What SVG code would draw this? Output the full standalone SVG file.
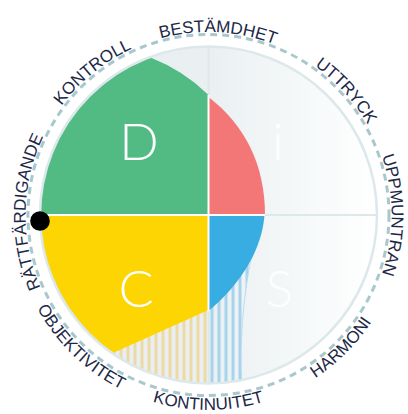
<svg xmlns="http://www.w3.org/2000/svg" width="408" height="414" viewBox="0 0 408 414">
  <style>
    .lbl { font-family: "Liberation Sans", Arial, sans-serif; font-size: 17px; fill: #1d2846; }
    .big { font-family: Lato, "Open Sans", sans-serif; font-weight: 300; font-size: 52px; text-anchor: middle; }
    .axis { stroke: #dde8ea; stroke-width: 2; }
    .gap { stroke: #ffffff; stroke-width: 2; }
  </style>
  <defs>
    <linearGradient id="bgGrad" x1="40" y1="0" x2="378" y2="0" gradientUnits="userSpaceOnUse">
      <stop offset="0" stop-color="#e7eef0"/>
      <stop offset="0.5" stop-color="#eaf0f2"/>
      <stop offset="1" stop-color="#ffffff"/>
    </linearGradient>
    <pattern id="beige" x="0" y="0" width="7" height="10" patternUnits="userSpaceOnUse">
      <rect x="0.5" y="0" width="3" height="10" fill="#eed9a4"/>
    </pattern>
    <pattern id="blueH" x="0" y="0" width="7" height="10" patternUnits="userSpaceOnUse">
      <rect x="0.5" y="0" width="3" height="10" fill="#a8d3ec"/>
    </pattern>
    <clipPath id="inner">
      <circle cx="208.5" cy="215" r="168"/>
    </clipPath>
    <path id="pBest" d="M40.05,143.5 A183,183 0 0 1 383.5,161.5"/>
    <path id="pUtt" d="M139.95,45.3 A183,183 0 0 1 370.1,300.9"/>
    <path id="pUpp" d="M271.1,43 A183,183 0 0 1 271.1,387"/>
    <path id="pRatt" d="M142.9,385.8 A183,183 0 0 1 148.9,42"/>
    <path id="pKontr" d="M35.5,274.6 A183,183 0 0 1 302.7,58.1"/>
    <path id="pHarm" d="M126.1,391.7 A195,195 0 0 0 385.2,132.6"/>
    <path id="pKonti" d="M25.3,281.7 A195,195 0 0 0 391.7,281.7"/>
    <path id="pObj" d="M30.4,135.7 A195,195 0 0 0 294,390.3"/>
  </defs>

  <g id="background">
    <circle cx="208.5" cy="215" r="180.5" fill="none" stroke="#a9c8ce" stroke-width="3" stroke-dasharray="7 5"/>
    <circle cx="208.5" cy="215" r="168" fill="url(#bgGrad)"/>
  </g>

  <g id="hatching" clip-path="url(#inner)">
    <path d="M208.5,215 H40.5 A168,168 0 0 0 208.5,383 Z" fill="url(#beige)"/>
    <path d="M208.5,250 H253 C245,290 239,330 242,390 H208.5 Z" fill="url(#blueH)"/>
    <path d="M251,258 C245,290 239,330 242,390" fill="none" stroke="#bcdcee" stroke-width="1"/>
  </g>

  <g id="axes" clip-path="url(#inner)">
    <line class="axis" x1="40" y1="215" x2="378" y2="215"/>
    <line class="axis" x1="208.5" y1="46" x2="208.5" y2="384"/>
  </g>

  <g id="node-D">
    <path d="M208.5,215 H40.5 A168,168 0 0 1 150.5,57.6 Q184,70.8 208.5,95 Z" fill="#52bb84"/>
    <text class="big" x="139" y="160" fill="#ffffff">D</text>
  </g>
  <g id="node-i">
    <path d="M208.5,215 V97 C245,125 265,165 265,215 Z" fill="#f47777"/>
    <text class="big" x="278" y="160" fill="#ffffff" fill-opacity="0.85">i</text>
  </g>
  <g id="node-S">
    <path d="M208.5,215 H264.5 C262,248 243,282 208.5,311 Z" fill="#38ade1"/>
    <text class="big" x="279.5" y="307" fill="#ffffff" fill-opacity="0.85">S</text>
  </g>
  <g id="node-C">
    <path d="M208.5,215 H40.5 A168,168 0 0 0 113,353 L208.5,310 Z" fill="#fcd503"/>
    <text class="big" x="136" y="307" fill="#ffffff">C</text>
  </g>

  <g id="dividers">
    <line class="gap" x1="40" y1="215" x2="265" y2="215"/>
    <line class="gap" x1="208.5" y1="95" x2="208.5" y2="311"/>
  </g>

  <g id="rim">
    <circle cx="208.5" cy="215" r="168.5" fill="none" stroke="#dde8ea" stroke-width="2.5"/>
  </g>

  <g id="marker">
    <circle cx="40" cy="221" r="9.8" fill="#000000"/>
  </g>

  <g id="labels">
    <text class="lbl" text-anchor="middle"><textPath href="#pBest" startOffset="50%">BESTÄMDHET</textPath></text>
    <text class="lbl" text-anchor="middle"><textPath href="#pUtt" startOffset="50%">UTTRYCK</textPath></text>
    <text class="lbl" text-anchor="middle"><textPath href="#pUpp" startOffset="50%">UPPMUNTRAN</textPath></text>
    <text class="lbl" text-anchor="middle"><textPath href="#pHarm" startOffset="50%">HARMONI</textPath></text>
    <text class="lbl" text-anchor="middle"><textPath href="#pKonti" startOffset="50%">KONTINUITET</textPath></text>
    <text class="lbl" text-anchor="middle"><textPath href="#pObj" startOffset="50%">OBJEKTIVITET</textPath></text>
    <text class="lbl" text-anchor="middle"><textPath href="#pRatt" startOffset="50%">RÄTTFÄRDIGANDE</textPath></text>
    <text class="lbl" text-anchor="middle"><textPath href="#pKontr" startOffset="50%">KONTROLL</textPath></text>
  </g>
</svg>
